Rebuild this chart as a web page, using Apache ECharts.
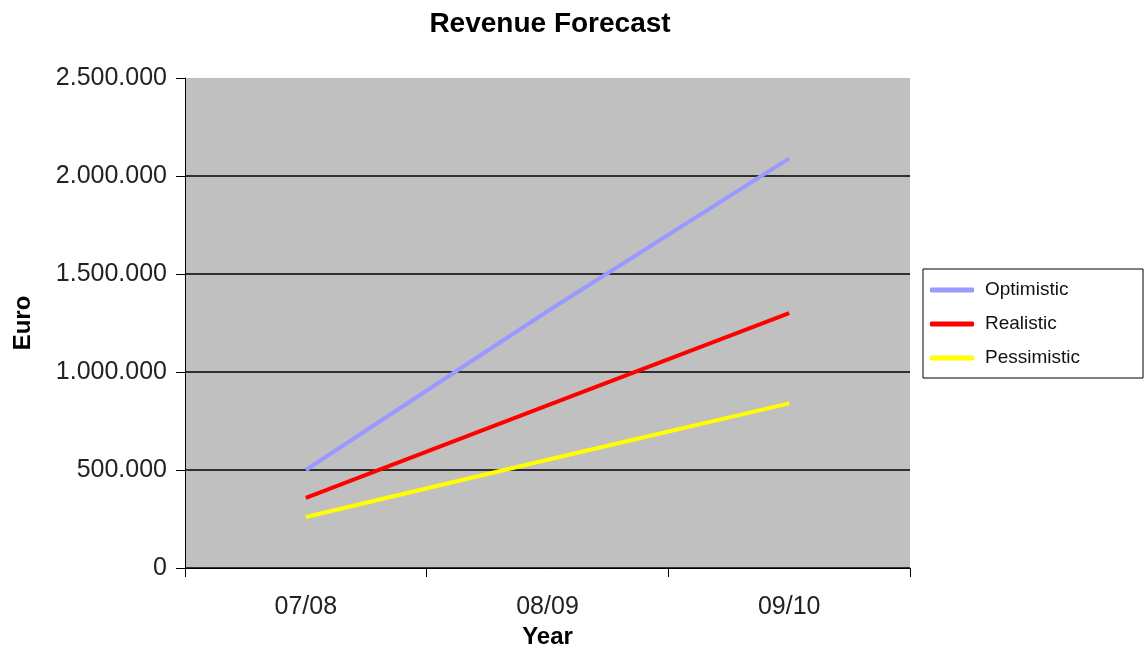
<!DOCTYPE html>
<html>
<head>
<meta charset="utf-8">
<script src="https://cdn.jsdelivr.net/npm/echarts@6/dist/echarts.min.js"></script>
<style>
  html, body { margin: 0; padding: 0; background: #fff; }
  #chart { width: 1147px; height: 651px; }
</style>
</head>
<body>
<div id="chart"></div>
<script>
// values
const years       = ['07/08', '08/09', '09/10']
const optimistic  = [500000, 1310000, 2090000]
const realistic   = [358000, 830000, 1300000]
const pessimistic = [260000, 552000, 840000]

const COLOR_OPT  = '#9999ff'
const COLOR_REAL = '#ff0000'
const COLOR_PESS = '#ffff00'
const FONT = '"Liberation Sans", Arial, sans-serif'

// 2500000 -> 2.500.000
const fmt = v => String(v).replace(/\B(?=(\d{3})+(?!\d))/g, '.')

const lineSeries = (name, data, color) => ({
  name, type: 'line', data,
  symbol: 'none',
  lineStyle: { color, width: 4 },
  itemStyle: { color },
})

const chart = echarts.init(document.getElementById('chart'))
chart.setOption({
  animation: false,
  textStyle: { fontFamily: FONT },
  title: {
    text: 'Revenue Forecast',
    left: 545, top: 5, textAlign: 'center',
    textStyle: { fontFamily: FONT, fontSize: 28, fontWeight: 'bold', color: '#000' },
  },
  grid: {
    left: 185, right: 237, top: 78, bottom: 83,
    outerBoundsMode: 'none',
    show: true, backgroundColor: '#c0c0c0', borderWidth: 0,
  },
  legend: {
    orient: 'vertical',
    left: 923, top: 269,
    padding: [11, 63, 10, 7],
    itemGap: 14,
    itemWidth: 44, itemHeight: 5,
    icon: 'roundRect',
    backgroundColor: '#fff',
    borderColor: '#000', borderWidth: 1, borderRadius: 0,
    textStyle: { fontFamily: FONT, fontSize: 19, lineHeight: 20, color: '#111', padding: [0, 0, 0, 6] },
    data: ['Optimistic', 'Realistic', 'Pessimistic'],
  },
  xAxis: {
    type: 'category',
    data: years,
    boundaryGap: true,
    name: 'Year',
    nameLocation: 'middle',
    nameGap: 54,
    nameTextStyle: { fontFamily: FONT, fontSize: 24, fontWeight: 'bold', color: '#000' },
    axisLine: { lineStyle: { color: '#000', width: 1 } },
    axisTick: { show: true, length: 9, lineStyle: { color: '#000' } },
    axisLabel: { fontFamily: FONT, fontSize: 25, color: '#222', margin: 27 },
  },
  yAxis: {
    type: 'value',
    min: 0, max: 2500000, interval: 500000,
    name: 'Euro',
    nameLocation: 'middle',
    nameGap: 150,
    nameTextStyle: { fontFamily: FONT, fontSize: 24, fontWeight: 'bold', color: '#000' },
    axisLine: { show: true, lineStyle: { color: '#000', width: 1 } },
    axisTick: { show: true, length: 9, lineStyle: { color: '#000' } },
    axisLabel: { fontFamily: FONT, fontSize: 25, color: '#222', margin: 18, formatter: fmt },
    splitLine: {
      show: true,
      // no line along the top edge of the plot
      lineStyle: { color: ['#000', '#000', '#000', '#000', '#000', 'rgba(0,0,0,0)'], width: 1.5 },
    },
  },
  series: [
    lineSeries('Optimistic', optimistic, COLOR_OPT),
    lineSeries('Realistic', realistic, COLOR_REAL),
    lineSeries('Pessimistic', pessimistic, COLOR_PESS),
  ],
})
</script>
</body>
</html>
